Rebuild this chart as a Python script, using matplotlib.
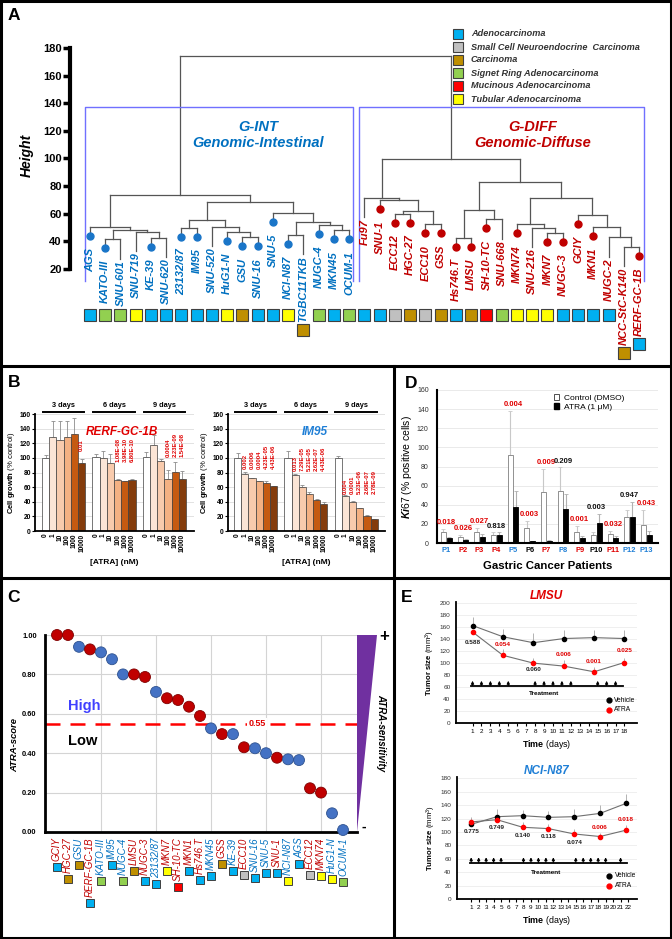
import numpy as np
import matplotlib
matplotlib.use('Agg')
import matplotlib.pyplot as plt
from matplotlib.lines import Line2D
from matplotlib.patches import Rectangle, Polygon, Patch

plt.rcParams['font.family'] = ['Liberation Sans', 'DejaVu Sans']
plt.rcParams['mathtext.fontset'] = 'custom'
plt.rcParams['mathtext.rm'] = 'Liberation Sans'
plt.rcParams['mathtext.bf'] = 'Liberation Sans:bold'
plt.rcParams['mathtext.it'] = 'Liberation Sans:bold:italic'

W, H = 672, 939

# ---------------- data: panel A (dendrogram) ----------------
leaves = ['AGS', 'KATO-III', 'SNU-601', 'SNU-719', 'KE-39', 'SNU-620', '23132/87', 'IM95',
          'SNU-520', 'HuG1-N', 'GSU', 'SNU-16', 'SNU-5', 'NCI-N87', 'TGBC11TKB', 'NUGC-4',
          'MKN45', 'OCUM-1',
          'Fu97', 'SNU-1', 'ECC12', 'HGC-27', 'ECC10', 'GSS', 'Hs746.T', 'LMSU', 'SH-10-TC',
          'SNU-668', 'MKN74', 'SNU-216', 'MKN7', 'NUGC-3', 'GCIY', 'MKN1', 'NUGC-2',
          'NCC-StC-K140', 'RERF-GC-1B']
n_int = 18
leaf_dot = [1, 1, 0, 0, 1, 0, 1, 1, 0, 1, 1, 1, 1, 1, 0, 1, 1, 1,
            0, 1, 1, 1, 1, 1, 1, 1, 1, 0, 1, 0, 1, 1, 1, 1, 0, 0, 1]
leaf_type = ['A', 'S', 'S', 'T', 'A', 'A', 'A', 'A', 'A', 'T', 'C', 'A', 'A', 'T', 'C', 'S', 'A', 'S',
             'A', 'A', 'N', 'C', 'N', 'C', 'A', 'C', 'M', 'S', 'T', 'T', 'T', 'A', 'A', 'A', 'A', 'C', 'A']
# (node, left, right, height)
merges = [
    ('c1', 'KATO-III', 'SNU-601', 41.5), ('d1', 'KE-39', 'SNU-620', 42.5),
    ('c2', 'SNU-719', 'd1', 47), ('b1', 'c1', 'c2', 48.5), ('a1', 'AGS', 'b1', 50.5),
    ('g1', '23132/87', 'IM95', 50), ('h2', 'GSU', 'SNU-16', 43), ('h1', 'HuG1-N', 'h2', 46.5),
    ('g2', 'SNU-520', 'h1', 50.5), ('e1', 'g1', 'g2', 55.5),
    ('j1', 'NCI-N87', 'TGBC11TKB', 44.5), ('k2', 'MKN45', 'OCUM-1', 48), ('k1', 'NUGC-4', 'k2', 52),
    ('i1', 'j1', 'k1', 54), ('f1', 'SNU-5', 'i1', 60.5), ('a2', 'e1', 'f1', 68.5),
    ('gint', 'a1', 'a2', 73.5),
    ('n1', 'ECC12', 'HGC-27', 60), ('n2', 'ECC10', 'GSS', 52.5), ('m2', 'n1', 'n2', 62),
    ('p1', 'SNU-1', 'm2', 70), ('l1', 'Fu97', 'p1', 71.5),
    ('t1', 'Hs746.T', 'LMSU', 42.5), ('t2', 'SH-10-TC', 'SNU-668', 56), ('s1', 't1', 't2', 63),
    ('u3', 'MKN7', 'NUGC-3', 46), ('u2', 'SNU-216', 'u3', 50), ('u1', 'MKN74', 'u2', 52.5),
    ('v4', 'NCC-StC-K140', 'RERF-GC-1B', 36), ('v3', 'NUGC-2', 'v4', 43), ('v2', 'MKN1', 'v3', 50.5),
    ('v1', 'GCIY', 'v2', 59), ('s2', 'u1', 'v1', 71.5), ('r1', 's1', 's2', 83),
    ('gdiff', 'l1', 'r1', 99.5), ('root', 'gint', 'gdiff', 174),
]
hist_colors = {'A': '#00b0f0', 'N': '#c0c0c0', 'C': '#bf8f00', 'S': '#92d050', 'M': '#ff0000', 'T': '#ffff00'}
hist_names = [('A', 'Adenocarcinoma'), ('N', 'Small Cell Neuroendocrine  Carcinoma'), ('C', 'Carcinoma'),
              ('S', 'Signet Ring Adenocarcinoma'), ('M', 'Mucinous Adenocarcinoma'), ('T', 'Tubular Adenocarcinoma')]

# ---------------- data: panel B ----------------
atra_conc = ['0', '1', '10', '100', '1000', '10000']
day_groups = ['3 days', '6 days', '9 days']
rerf_mean = [[100, 129, 124, 129, 133, 93], [101, 100, 93, 70, 68, 70], [101, 118, 96, 71, 81, 71]]
rerf_err = [[4, 21, 26, 22, 21, 6], [4, 10, 12, 1, 1, 1], [7, 13, 3, 12, 14, 11]]
rerf_p = [['', '', '', '', '', '0.01'], ['', '', '', '1.08E-08', '3.98E-10', '6.80E-10'],
          ['', '', '', '0.0004', '2.23E-09', '1.54E-08']]
im95_mean = [[100, 78, 72, 68, 66, 61], [100, 76, 60, 51, 43, 37], [100, 48, 40, 31, 21, 16]]
im95_err = [[7, 3, 1, 1, 2, 0.5], [10, 2, 3, 2, 1, 2], [3, 1, 1, 1, 1, 1]]
im95_p = [['', '0.002', '0.0006', '0.0004', '4.23E-05', '4.43E-06'],
          ['', '0.013', '7.29E-05', '5.21E-05', '2.62E-07', '4.43E-06'],
          ['', '0.004', '0.0001', '5.23E-06', '2.68E-07', '2.78E-09']]

# ---------------- data: panel C ----------------
c_lines = ['GCIY', 'HGC-27', 'GSU', 'RERF-GC-1B', 'KATO-III', 'IM95', 'NUGC-4', 'LMSU', 'NUGC-3',
           '23132/87', 'MKN7', 'SH-10-TC', 'MKN1', 'Hs746.T', 'MKN45', 'GSS', 'KE-39', 'ECC10',
           'SNU-16', 'SNU-5', 'SNU-1', 'NCI-N87', 'AGS', 'ECC12', 'MKN74', 'HuG1-N', 'OCUM-1']
c_score = [1.00, 1.00, 0.94, 0.927, 0.912, 0.877, 0.80, 0.80, 0.787, 0.711, 0.679, 0.670, 0.636,
           0.589, 0.526, 0.497, 0.497, 0.430, 0.425, 0.40, 0.377, 0.369, 0.365, 0.222, 0.20, 0.095, 0.01]
c_cut = 0.55

# ---------------- data: panel D ----------------
patients = ['P%d' % i for i in range(1, 14)]
patient_col = ['#1f7fd6', '#e00000', '#e00000', '#e00000', '#1f7fd6', '#000000', '#e00000',
               '#1f7fd6', '#e00000', '#000000', '#e00000', '#1f7fd6', '#1f7fd6']
ki67_ctrl = [11, 6, 12, 8, 92, 16, 53, 54, 12, 8, 9, 27, 19]
ki67_ctrl_err = [4, 2, 4, 3, 46, 7, 24, 25, 6, 4, 4, 8, 16]
ki67_atra = [5, 3, 6, 8, 38, 2, 2.5, 36, 5, 21, 5, 27, 8]
ki67_atra_err = [1, 1, 3, 3, 16, 0.5, 1, 15, 2, 9, 2, 16, 5]
ki67_p = ['0.018', '0.026', '0.027', '0.818', '0.004', '0.003', '0.009', '0.209', '0.001', '0.003',
          '0.032', '0.947', '0.043']
ki67_sig = [1, 1, 1, 0, 1, 1, 1, 0, 1, 0, 1, 0, 1]

# ---------------- data: panel E ----------------
lmsu_day = [1, 4.4, 7.8, 11.2, 14.6, 18]
lmsu_veh = [162.7, 144, 134, 141, 142.5, 141]
lmsu_veh_err = [15, 13, 16, 14, 13.5, 15]
lmsu_atra = [152, 113, 100, 95, 85.5, 101]
lmsu_atra_err = [0, 10, 8, 10, 8, 8]
lmsu_p = ['0.588', '0.054', '0.060', '0.006', '0.001', '0.025']
lmsu_sig = [0, 1, 0, 1, 1, 1]
lmsu_treat = [1, 2, 3, 4, 5, 8, 9, 10, 11, 12, 15, 16, 17]

nci_day = [1, 4.45, 7.9, 11.35, 14.8, 18.25, 21.7]
nci_veh = [111.4, 122.8, 124.3, 121.8, 122.8, 127.7, 142.5]
nci_veh_err = [2, 12, 8, 9, 11, 12, 14]
nci_atra = [115, 118.3, 107, 105, 97, 93.2, 102.6]
nci_atra_err = [8, 2, 8, 6.5, 8, 6, 7.5]
nci_p = ['0.775', '0.749', '0.140', '0.118', '0.074', '0.006', '0.018']
nci_sig = [0, 0, 0, 0, 0, 1, 1]
nci_treat = [1, 2, 3, 4, 5, 8, 9, 10, 11, 12, 15, 16, 17, 18, 19, 21]

BLUE_T = '#0070c0'
RED_T = '#c00000'

fig = plt.figure(figsize=(W / 100, H / 100), dpi=100)


def add_ax(x0, y0, x1, y1):
    return fig.add_axes([x0 / W, 1 - y1 / H, (x1 - x0) / W, (y1 - y0) / H])


def fline(x0, y0, x1, y1, lw=2.2):
    fig.add_artist(Line2D([x0 / W, x1 / W], [1 - y0 / H, 1 - y1 / H], color='k', lw=lw,
                          transform=fig.transFigure, solid_capstyle='projecting'))


def ftext(x, y, s, **kw):
    fig.text(x / W, 1 - y / H, s, **kw)


# frame
fline(1, 1, 671, 1); fline(1, 938, 671, 938); fline(1, 1, 1, 938); fline(671, 1, 671, 938)
fline(1, 366, 671, 366); fline(1, 578, 671, 578); fline(394, 366, 394, 938)
for lab, x, y in [('A', 14, 16), ('B', 14, 383), ('C', 14, 597), ('D', 411, 384), ('E', 407, 598)]:
    ftext(x, y, lab, fontsize=12.5, fontweight='bold', ha='center', va='center')

# ================= panel A =================
ax_a = add_ax(70, 20, 660, 362)
ax_a.set_xlim(-1.311, 37.377)
ax_a.set_ylim(-47.37, 200.27)
for s in ['top', 'right', 'bottom']:
    ax_a.spines[s].set_visible(False)
ax_a.spines['left'].set_bounds(20, 180)
ax_a.spines['left'].set_linewidth(3)
ax_a.set_yticks(range(20, 181, 20))
ax_a.tick_params(axis='y', width=2.5, length=5, labelsize=8, pad=1)
for t in ax_a.get_yticklabels():
    t.set_fontweight('bold')
ax_a.set_xticks([])
ax_a.patch.set_alpha(0)
ftext(27, 155, 'Height', rotation=90, fontsize=10, fontweight='bold', fontstyle='italic',
      ha='center', va='center')

pos = {n: (i, None) for i, n in enumerate(leaves)}
leaf_parent_h = {}
for name, l, r, h in merges:
    xl, hl = pos[l]
    xr, hr = pos[r]
    for child, xc, hc in [(l, xl, hl), (r, xr, hr)]:
        if hc is None:
            leaf_parent_h[child] = h
        else:
            ax_a.plot([xc, xc], [hc, h], color='#555555', lw=0.9)
    ax_a.plot([xl, xr], [h, h], color='#555555', lw=0.9)
    pos[name] = ((xl + xr) / 2, h)

leaf_texts = []
for i, n in enumerate(leaves):
    h = leaf_parent_h[n]
    col = BLUE_T if i < n_int else RED_T
    dcol = '#1a75c8' if i < n_int else '#c00000'
    if leaf_dot[i]:
        ax_a.plot([i, i], [h, h - 6.5], color='#555555', lw=0.9)
        ax_a.plot(i, h - 6.5, 'o', color=dcol, ms=5, zorder=3)
    else:
        ax_a.plot([i, i], [h, h - 14], color='#555555', lw=0.9)
    t = ax_a.text(i, h - 15, n, rotation=90, ha='center', va='top', fontsize=8,
                  fontweight='bold', fontstyle='italic', color=col)
    leaf_texts.append(t)

# cluster boxes
box_col = '#7070ff'
ax_a.plot([-0.33, -0.33, n_int - 1 + 0.25, n_int - 1 + 0.25], [11, 137.3, 137.3, 11], color=box_col, lw=1)
ax_a.plot([n_int - 0.36, n_int - 0.36, len(leaves) - 1 + 0.33, len(leaves) - 1 + 0.33],
          [11, 137.3, 137.3, 11], color=box_col, lw=1)
ax_a.text(11, 117, 'G-INT\nGenomic-Intestinal', ha='center', va='center', fontsize=10.5,
          fontweight='bold', fontstyle='italic', color=BLUE_T, linespacing=1.15)
ax_a.text(29, 117, 'G-DIFF\nGenomic-Diffuse', ha='center', va='center', fontsize=10.5,
          fontweight='bold', fontstyle='italic', color=RED_T, linespacing=1.15)

# legend of histology
for k, (code, lab) in enumerate(hist_names):
    y = 34 + 13 * k
    fig.add_artist(Rectangle(((458 - 5) / W, 1 - (y + 5) / H), 10 / W, 10 / H, transform=fig.transFigure,
                             fc=hist_colors[code], ec='#404040', lw=0.8))
    ftext(471, y, lab, fontsize=6.6, fontweight='bold', fontstyle='italic', color='#333333', va='center')

# ================= panel B =================
bar_cols = ['#ffffff', '#fbe5d6', '#f8cbad', '#f4b183', '#c55a11', '#843c0c']


def growth_plot(ax, means, errs, pvals, p_base, title, tcol):
    xt = []
    for g in range(3):
        xs = g * 7 + np.arange(6)
        xt.extend(xs)
        ax.bar(xs, means[g], width=1, color=bar_cols, edgecolor='#404040', lw=0.5, zorder=2)
        ax.errorbar(xs, means[g], yerr=[np.zeros(6), errs[g]], fmt='none', ecolor='#8c8c8c',
                    elinewidth=0.6, capsize=1.2, capthick=0.6, zorder=1)
        for k in range(6):
            if pvals[g][k]:
                ax.text(xs[k], p_base[g], pvals[g][k], rotation=90, ha='center', va='bottom',
                        color='#e00000', fontsize=4.2, fontweight='bold')
        ax.plot([xs[0] - 0.4, xs[-1] + 0.4], [163, 163], color='k', lw=1.4, clip_on=False)
        ax.text(xs.mean(), 167, day_groups[g], ha='center', va='bottom', fontsize=5.3, fontweight='bold')
    ax.set_ylim(0, 160)
    ax.set_yticks(range(0, 161, 20))
    ax.set_xticks(xt)
    ax.set_xticklabels(atra_conc * 3, rotation=90, fontsize=4.7, fontweight='bold')
    ax.tick_params(axis='x', length=0, pad=2)
    ax.tick_params(axis='y', labelsize=4.8, length=2, pad=1)
    for t in ax.get_yticklabels():
        t.set_fontweight('bold')
    ax.grid(axis='y', color='#dddddd', lw=0.6)
    ax.set_axisbelow(True)
    for s in ['top', 'right']:
        ax.spines[s].set_visible(False)
    ax.spines['left'].set_linewidth(1.3)
    ax.spines['bottom'].set_linewidth(1.3)
    ax.set_ylabel(r'$\mathbf{Cell\ growth}$ (% control)', fontsize=5.5, labelpad=2)
    ax.set_xlabel('[ATRA] (nM)', fontsize=6, fontweight='bold', labelpad=5)
    ax.text(0.55, 0.85, title, transform=ax.transAxes, ha='center', va='center', fontsize=8.5,
            fontweight='bold', fontstyle='italic', color=tcol)


ax_b1 = add_ax(35, 414, 194, 531)
ax_b1.set_xlim(-1.47, 20.6)
growth_plot(ax_b1, rerf_mean, rerf_err, rerf_p, [110, 94, 101], 'RERF-GC-1B', '#e00000')
ax_b2 = add_ax(228, 414, 385, 531)
ax_b2.set_xlim(-1.33, 20.5)
growth_plot(ax_b2, im95_mean, im95_err, im95_p, [85, 82, 50], 'IM95', '#1f7fd6')

# ================= panel D =================
ax_d = add_ax(437, 390, 658, 543)
xd = np.arange(len(patients))
ax_d.bar(xd - 0.17, ki67_ctrl, width=0.3, color='white', edgecolor='#808080', lw=0.6, zorder=2)
ax_d.bar(xd + 0.17, ki67_atra, width=0.3, color='black', edgecolor='black', lw=0.6, zorder=2)
ax_d.errorbar(xd - 0.17, ki67_ctrl, yerr=[np.zeros(len(xd)), ki67_ctrl_err], fmt='none',
              ecolor='#c8c8c8', elinewidth=0.8, capsize=1.2, capthick=0.6, zorder=1)
ax_d.errorbar(xd + 0.17, ki67_atra, yerr=[np.zeros(len(xd)), ki67_atra_err], fmt='none',
              ecolor='#b0b0b0', elinewidth=0.8, capsize=1.2, capthick=0.6, zorder=1)
for i in range(len(xd)):
    top = max(ki67_ctrl[i] + ki67_ctrl_err[i], ki67_atra[i] + ki67_atra_err[i])
    ax_d.text(i, top + 3, ki67_p[i], ha='center', va='bottom', fontsize=5.5, fontweight='bold',
              color='#e00000' if ki67_sig[i] else '#111111')
ax_d.set_xlim(-0.55, 12.7)
ax_d.set_ylim(0, 160)
ax_d.set_yticks(range(0, 161, 20))
ax_d.set_xticks(xd)
ax_d.set_xticklabels(patients, fontsize=5.4, fontweight='bold')
for t, c in zip(ax_d.get_xticklabels(), patient_col):
    t.set_color(c)
ax_d.tick_params(axis='x', length=0, pad=3)
ax_d.tick_params(axis='y', length=0, labelsize=5, pad=6, labelcolor='#333333')
ax_d.grid(axis='y', color='#e6e6e6', lw=0.6)
ax_d.set_axisbelow(True)
for s in ['top', 'right']:
    ax_d.spines[s].set_visible(False)
ax_d.spines['left'].set_linewidth(1.5)
ax_d.spines['bottom'].set_linewidth(1.5)
ax_d.set_ylabel(r'$\mathit{Ki67}$ (% positive cells)', fontsize=7.5, labelpad=2)
ax_d.set_xlabel('Gastric Cancer Patients', fontsize=8.2, fontweight='bold', labelpad=5)
ax_d.legend(handles=[Patch(fc='white', ec='#333333', lw=0.6), Patch(fc='black', ec='black')],
            labels=['Control (DMSO)', 'ATRA (1 \u03bcM)'], loc='upper right', bbox_to_anchor=(0.88, 1.02),
            frameon=False, fontsize=6, handlelength=0.6, handleheight=0.6, handletextpad=0.5,
            labelspacing=0.15)

# ================= panel C =================
ax_c = add_ax(45, 635, 357, 832)
xc = np.arange(len(c_lines))
int_set = set(leaves[:n_int])
type_of = dict(zip(leaves, leaf_type))
c_is_int = [n in int_set for n in c_lines]
ax_c.scatter(xc, c_score, s=62, c=['#4472c4' if g else '#c00000' for g in c_is_int],
             edgecolors=['#2f528f' if g else '#7f0000' for g in c_is_int], linewidths=0.6,
             zorder=3, clip_on=False)
ax_c.set_xlim(-1.09, 27.27)
ax_c.set_ylim(0, 1.0)
ax_c.set_yticks(np.arange(0, 1.01, 0.2))
ax_c.set_yticklabels(['%.2f' % v for v in np.arange(0, 1.01, 0.2)], fontsize=5.4, fontweight='bold')
ax_c.set_xticks([4, 9, 14, 19, 24])
ax_c.set_xticklabels([])
ax_c.tick_params(axis='x', length=0)
ax_c.tick_params(axis='y', length=0, pad=6)
ax_c.grid(color='#d4d4d4', lw=0.8)
ax_c.set_axisbelow(True)
for s in ['top', 'right']:
    ax_c.spines[s].set_visible(False)
ax_c.spines['left'].set_linewidth(2)
ax_c.spines['bottom'].set_linewidth(2)
ax_c.axhline(c_cut, color='#ff0000', lw=1.8, dashes=(6, 4), zorder=2)
ax_c.text(18.2, c_cut, '%.2f' % c_cut, ha='center', va='center', fontsize=6.5, fontweight='bold',
          color='#e00000', bbox=dict(fc='white', ec='none', pad=1), zorder=2.5)
ax_c.text(1.0, 0.64, 'High', fontsize=10.5, fontweight='bold', color='#4040ff', ha='left', va='center')
ax_c.text(1.0, 0.46, 'Low', fontsize=10.5, fontweight='bold', color='black', ha='left', va='center')
ftext(15, 745, 'ATRA-score', rotation=90, fontsize=6.8, fontweight='bold', fontstyle='italic',
      ha='center', va='center')
c_texts = []
for i, n in enumerate(c_lines):
    t = ax_c.annotate(n, (i, 0), xytext=(0, -4), textcoords='offset points', rotation=90, ha='center',
                      va='top', fontsize=7, fontstyle='italic', color=BLUE_T if c_is_int[i] else RED_T)
    c_texts.append(t)

# sensitivity triangle
fig.add_artist(Polygon([(357 / W, 1 - 635 / H), (377 / W, 1 - 635 / H), (357 / W, 1 - 832 / H)],
                       closed=True, transform=fig.transFigure, fc='#7030a0', ec='none'))
ftext(384, 636, '+', fontsize=12, fontweight='bold', ha='center', va='center')
ftext(364, 827, '-', fontsize=10, fontweight='bold', ha='center', va='center')
ftext(381, 733, 'ATRA-sensitivity', rotation=270, fontsize=7, fontweight='bold', fontstyle='italic',
      ha='center', va='center')

# ================= panel E =================


def tumor_plot(ax, days, veh, veh_err, atra, atra_err, pvals, sig, p_y, treat, bar_y, ndays, title, tcol):
    ax.errorbar(days, veh, yerr=[np.zeros(len(days)), veh_err], fmt='none', ecolor='#a6a6a6',
                elinewidth=0.6, capsize=0, zorder=1)
    ax.errorbar(days, atra, yerr=[np.zeros(len(days)), atra_err], fmt='none', ecolor='#a6a6a6',
                elinewidth=0.6, capsize=0, zorder=1)
    ax.plot(days, veh, '-', color='#707070', lw=0.8, zorder=2)
    ax.plot(days, atra, '-', color='#707070', lw=0.8, zorder=2)
    ax.plot(days, veh, 'o', color='black', ms=3, zorder=3)
    ax.plot(days, atra, 'o', color='#ff0000', ms=3, zorder=3)
    for d, p, s, y in zip(days, pvals, sig, p_y):
        ax.text(d, y, p, ha='center', va='center', fontsize=4.6, fontweight='bold',
                color='#e00000' if s else '#222222')
    ax.plot([treat[0] - 0.2, treat[-1] + 0.8], [bar_y, bar_y], color='black', lw=1.3)
    for d in treat:
        ax.annotate('', xy=(d, bar_y + 8), xytext=(d, bar_y),
                    arrowprops=dict(arrowstyle='-|>', color='black', lw=0.8, mutation_scale=4,
                                    shrinkA=0, shrinkB=0))
    ax.text((treat[0] + treat[-1]) / 2, bar_y - 14, 'Treatment', ha='center', va='center',
            fontsize=4.6, fontweight='bold')
    ax.plot(0.845, 0.19, 'o', color='black', ms=3.5, transform=ax.transAxes, clip_on=False)
    ax.plot(0.845, 0.11, 'o', color='#ff0000', ms=3.5, transform=ax.transAxes, clip_on=False)
    ax.text(0.875, 0.19, 'Vehicle', transform=ax.transAxes, fontsize=4.8, va='center')
    ax.text(0.875, 0.11, 'ATRA', transform=ax.transAxes, fontsize=4.8, va='center')
    ax.set_xticks(range(1, ndays + 1))
    ax.set_xticklabels([str(d) for d in range(1, ndays + 1)], fontsize=4.6)
    ax.tick_params(axis='x', length=2, pad=2)
    ax.tick_params(axis='y', length=0, labelsize=4.6, pad=4, labelcolor='#333333')
    ax.grid(axis='y', color='#ececec', lw=0.6)
    ax.set_axisbelow(True)
    for s in ['top', 'right']:
        ax.spines[s].set_visible(False)
    ax.spines['left'].set_linewidth(1.3)
    ax.spines['bottom'].set_linewidth(1.3)
    ax.set_ylabel(r'$\mathbf{Tumor\ size}$ (mm$^3$)', fontsize=5.6, labelpad=2)
    ax.set_xlabel(r'$\mathbf{Time}$ (days)', fontsize=6.4, labelpad=3)
    ax.set_title(title, fontsize=8.5, fontweight='bold', fontstyle='italic', color=tcol, pad=1)


ax_e1 = add_ax(456, 602, 637, 723)
ax_e1.set_xlim(-0.85, 19.4)
ax_e1.set_ylim(0, 202)
ax_e1.set_yticks(range(0, 201, 20))
tumor_plot(ax_e1, lmsu_day, lmsu_veh, lmsu_veh_err, lmsu_atra, lmsu_atra_err, lmsu_p, lmsu_sig,
           [134, 131, 89, 114.5, 102, 120.5], lmsu_treat, 62.5, 18, 'LMSU', '#e00000')
ax_e2 = add_ax(457, 777, 637, 899)
ax_e2.set_xlim(-0.9, 23.2)
ax_e2.set_ylim(0, 182)
ax_e2.set_yticks(range(0, 181, 20))
tumor_plot(ax_e2, nci_day, nci_veh, nci_veh_err, nci_atra, nci_atra_err, nci_p, nci_sig,
           [100, 106, 95, 92.7, 85, 106.5, 118], nci_treat, 54.2, 22, 'NCI-N87', '#1f7fd6')

# ---- histology squares below labels (need text extents) ----
fig.canvas.draw()
rend = fig.canvas.get_renderer()
row_disp = ax_a.transData.transform((0, -13.3))[1]
inv_a = ax_a.transData.inverted()
for i, t in enumerate(leaf_texts):
    bb = t.get_window_extent(rend)
    yd = min(row_disp, bb.y0 - 8)
    yv = inv_a.transform((0, yd))[1]
    ax_a.plot(i, yv, 's', ms=8.2, mfc=hist_colors[leaf_type[i]], mec='#404040', mew=0.8, clip_on=False)

inv_c = ax_c.transData.inverted()
for i, t in enumerate(c_texts):
    bb = t.get_window_extent(rend)
    yv = inv_c.transform((0, bb.y0 - 6))[1]
    ax_c.plot(i, yv, 's', ms=6.3, mfc=hist_colors[type_of[c_lines[i]]], mec='#404040', mew=0.7,
              clip_on=False)

fig.savefig('out.png', dpi=100)
